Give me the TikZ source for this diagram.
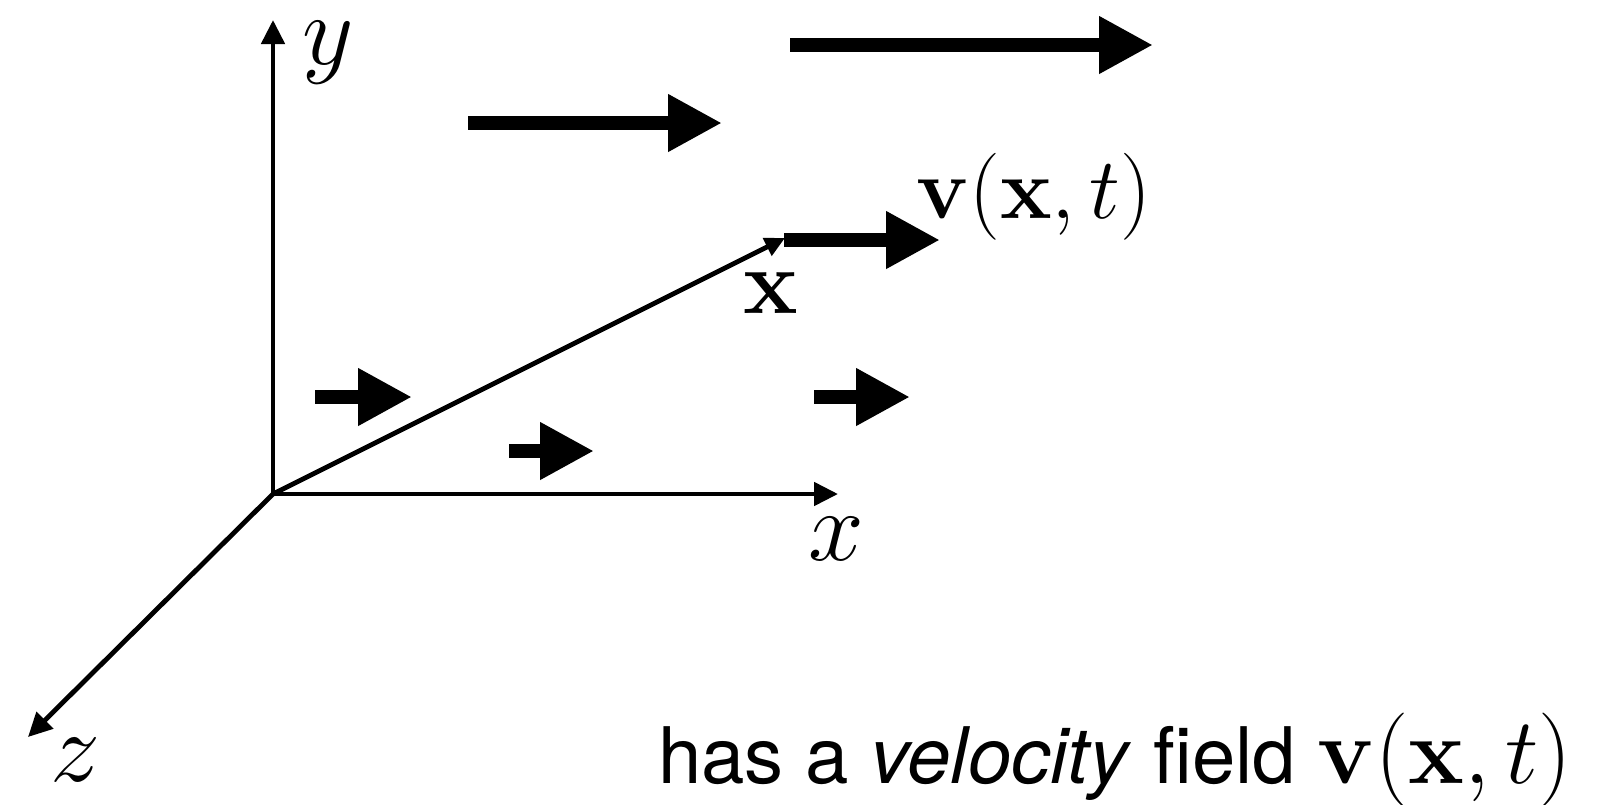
\RequirePackage{fix-cm}
\documentclass[tikz,border=0pt]{standalone}
\usepackage[no-math]{fontspec}
\newfontfamily\heros{TeX Gyre Heros}
\usetikzlibrary{arrows.meta}
\begin{document}
\begin{tikzpicture}[x=1pt,y=-1pt,
  axis/.style={line width=4.8pt,-{Triangle[length=24pt,width=23pt]}},
  posvec/.style={line width=4.8pt,-{Triangle[length=20pt,width=19pt]}},
  flow/.style={line width=14pt,-{Triangle[length=54pt,width=54pt]}},
  lab/.style={inner sep=0pt,anchor=base,font=\fontsize{100}{100}\selectfont},
  blab/.style={inner sep=0pt,font=\fontsize{92}{94}\selectfont}]
\useasboundingbox (0,0) rectangle (1613,804);
% axes
\coordinate (O) at (273,494);
\coordinate (Y) at (273,20);
\coordinate (X) at (838,494);
\coordinate (Z) at (28,737);
\coordinate (P) at (785,238);
\draw[axis] (O) -- (Y);
\draw[axis] (O) -- (X);
\draw[axis] (O) -- (Z);
\draw[posvec] (O) -- (P);
\node[lab] (ylab) at (328,64) {$y$};
\node[lab] (xlab) at (836,560) {$x$};
\node[lab] (zlab) at (75,781) {$z$};
\node[blab,anchor=base] (plab) at (771,313) {$\mathbf{x}$};
% flow arrows
\coordinate (a1s) at (790,45);  \coordinate (a1e) at (1153,45);
\coordinate (a2s) at (468,123); \coordinate (a2e) at (722,123);
\coordinate (a3s) at (315,397); \coordinate (a3e) at (412,397);
\coordinate (a4s) at (509,451); \coordinate (a4e) at (594,451);
\coordinate (a5s) at (814,397); \coordinate (a5e) at (910,397);
\coordinate (a6s) at (784,240); \coordinate (a6e) at (940,240);
\draw[flow] (a1s) -- (a1e);
\draw[flow] (a2s) -- (a2e);
\draw[flow] (a3s) -- (a3e);
\draw[flow] (a4s) -- (a4e);
\draw[flow] (a5s) -- (a5e);
\draw[flow] (a6s) -- (a6e);
\node[blab,anchor=base west,font=\fontsize{87}{90}\selectfont] (vlab) at (916,218) {$\mathbf{v}(\mathbf{x},t)$};
% caption
\node[anchor=base west,inner sep=0pt,font=\heros\fontsize{78}{80}\selectfont] (cap) at (658,783)
  {has a \textit{velocity} field {\fontsize{94}{100}\selectfont$\mathbf{v}(\mathbf{x},t)$}};
\end{tikzpicture}
\end{document}
